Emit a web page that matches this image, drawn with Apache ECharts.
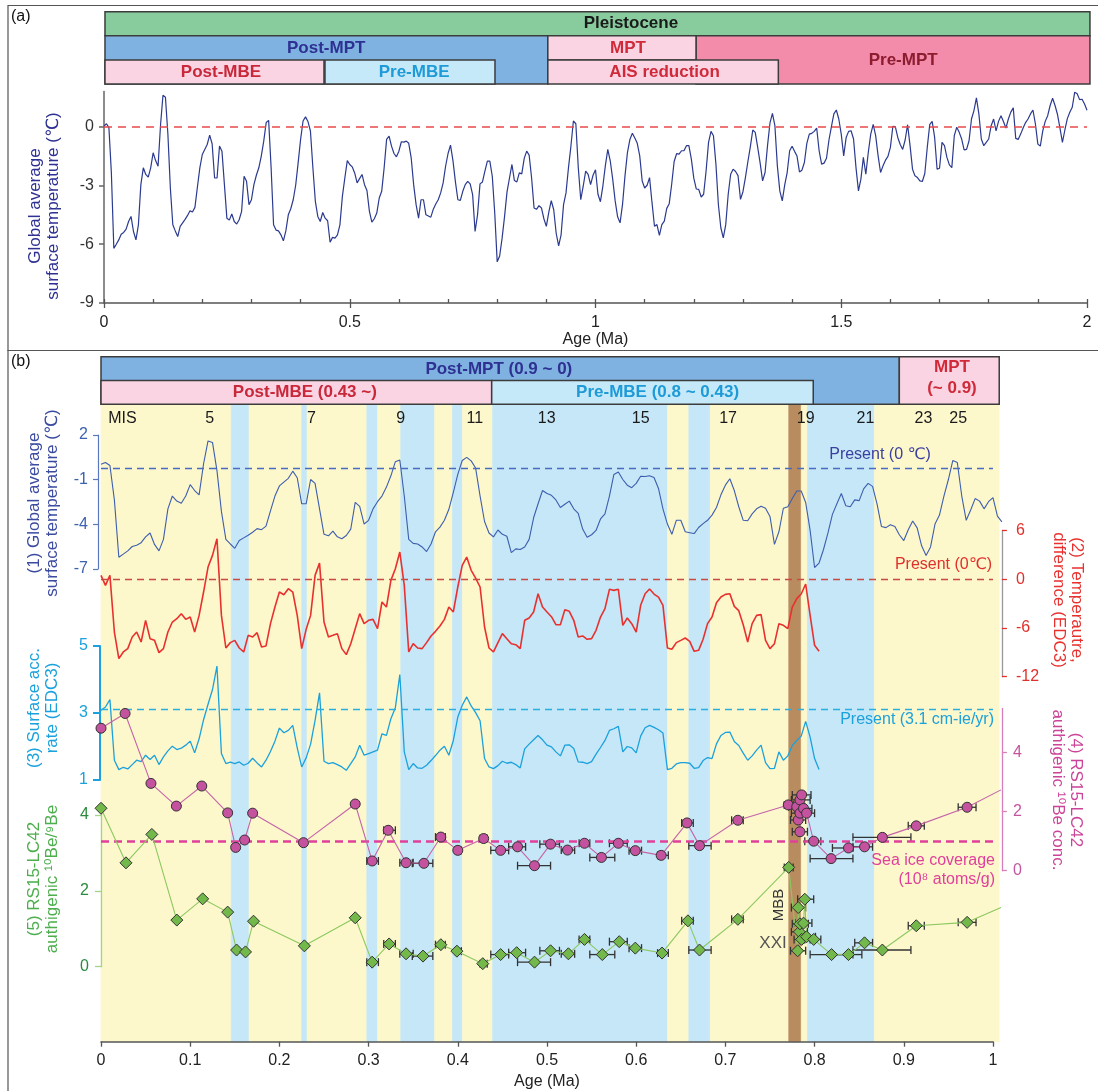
<!DOCTYPE html>
<html><head><meta charset="utf-8">
<script src="https://cdn.jsdelivr.net/npm/echarts@6/dist/echarts.min.js"></script>
<style>html,body{margin:0;padding:0;background:#fff}#c{width:1098px;height:1091px}</style>
</head><body><div id="c"></div><script>
const FONT = '"Liberation Sans", Arial, Helvetica, "DejaVu Sans", sans-serif';

// ---------- DATA ----------
// Global average surface temperature (deg C), sampled every 0.005 Ma, 0 - 2 Ma
const tempAgeStep = 0.005;
const globalTemp = [
0.03,0.15,-0.05,-2.36,-6.21,-6.0,-5.78,-5.49,-5.40,-5.23,
-4.84,-4.58,-5.35,-5.78,-5.01,-2.96,-2.10,-2.44,-2.58,-2.10,
-1.33,-1.73,-2.02,0.07,1.6,1.5,-0.39,-3.13,-5.01,-5.32,
-5.61,-5.09,-4.91,-4.73,-4.53,-4.29,-4.36,-4.12,-3.09,-2.10,
-1.42,-1.16,-0.91,-0.43,-0.87,-2.62,-2.62,-0.99,-1.25,-2.96,
-4.67,-4.77,-4.46,-4.84,-4.97,-4.75,-4.32,-2.53,-2.79,-3.98,
-3.73,-2.96,-2.48,-2.10,-1.50,-0.74,0.21,0.32,-2.10,-5.01,
-5.28,-5.32,-5.52,-5.83,-5.32,-4.50,-4.19,-3.73,-2.99,-1.85,
-0.65,0.29,0.50,0.26,-0.22,-2.10,-3.81,-4.58,-4.84,-4.38,
-4.67,-4.80,-5.9,-5.65,-5.69,-5.52,-5.01,-3.56,-2.62,-1.73,
-1.93,-2.05,-2.36,-2.87,-2.65,-2.44,-2.96,-3.26,-4.32,-4.87,
-4.70,-4.41,-3.64,-3.30,-2.10,-0.65,-0.48,-0.99,-1.37,-1.54,
-1.25,-0.77,-0.79,-0.74,-0.85,-1.59,-2.96,-3.98,-4.67,-3.73,
-3.73,-4.50,-4.56,-4.62,-4.21,-3.95,-3.73,-3.38,-2.87,-2.02,
-1.37,-0.94,-1.73,-2.82,-3.73,-3.76,-3.30,-2.96,-2.79,-2.92,
-3.47,-5.35,-4.50,-2.92,-2.82,-2.27,-1.76,-1.76,-2.53,-4.41,
-6.9,-6.6,-5.69,-4.58,-3.33,-2.62,-1.93,-2.75,-2.82,-2.36,
-2.41,-1.62,-1.25,-1.45,-2.62,-4.15,-4.22,-4.03,-4.15,-4.70,
-5.09,-4.36,-3.78,-4.24,-5.44,-6.09,-5.52,-3.98,-3.38,-2.10,
-0.99,0.29,0.15,-2.10,-3.73,-3.04,-2.27,-2.44,-2.96,-2.48,
-2.2,-3.45,-3.83,-3.03,-2.0,-1.16,-1.74,-2.68,-3.79,-4.60,
-4.91,-3.97,-2.51,-1.32,-0.65,-0.34,-0.58,-0.85,-1.49,-2.77,
-3.13,-2.99,-2.60,-3.88,-5.08,-5.00,-5.55,-5.00,-4.82,-4.17,
-3.93,-2.94,-1.78,-1.38,-1.40,-1.23,-1.23,-0.97,-0.97,-1.66,
-2.63,-3.18,-3.20,-3.59,-3.45,-2.26,-0.80,-0.24,-0.46,-1.91,
-3.97,-5.16,-5.68,-5.0,-3.45,-2.43,-2.17,-2.29,-2.50,-3.71,
-3.32,-2.60,-1.79,-1.03,-0.17,-0.29,-1.06,-1.86,-2.77,-2.34,
-0.97,0.19,0.68,0.05,-2.0,-3.28,-3.79,-2.97,-2.34,-1.23,
-1.0,-1.26,-1.50,-2.31,-2.22,-1.83,-0.85,-0.38,-0.34,-0.24,
-0.07,-1.23,-1.91,-1.86,-1.61,-0.68,0,0.65,0.85,0.39,
-0.38,-1.49,-0.55,-0.24,-0.21,-0.63,-2.09,-3.28,-2.68,-1.57,
-2.43,-1.32,-0.38,0.12,-0.46,-1.49,-2.34,-2.0,-1.71,-1.52,
-1.06,0.02,0,-0.55,-0.91,-1.16,-0.68,0.10,-0.97,-2.17,
-2.51,-2.60,-2.77,-2.80,-2.39,-1.06,0.10,0.27,-0.55,-2.17,
-2.12,-0.80,-0.97,-1.57,-1.95,-2.09,-0.46,-0.03,-0.29,-0.63,
-1.18,-1.16,-0.72,0.39,0.82,1.47,0.65,-0.63,-0.97,-0.80,
-0.63,0.05,0.39,-0.21,0.27,0.56,0.26,-0.07,0.39,0.74,
0.96,-0.60,-0.65,-0.38,-0.07,0.21,0.39,0.65,0.85,0.14,
-0.89,-0.99,-0.21,0.27,0.56,1.08,1.45,1.08,0.62,-0.07,
-0.80,-0.17,0.41,0.74,0.99,1.76,1.68,1.38,1.40,1.16,
0.84];

// EDC3 temperature difference (deg C) and surface accumulation rate (cm-ie/yr), every 0.005 Ma, 0 - 0.805 Ma
const edcAgeStep = 0.005;
const edcTempDiff = [
0.5,-0.74,0.49,-6.49,-9.77,-8.95,-8.54,-7.10,-6.49,-7.72,
-5.05,-7.31,-7.52,-9.03,-8.54,-6.49,-5.26,-4.85,-4.23,-4.93,
-4.64,-6.49,-4.44,-1.56,1.52,2.96,5.01,-4.44,-8.46,-7.80,
-7.52,-8.46,-8.95,-6.90,-7.10,-6.57,-8.34,-8.21,-5.46,-3.41,
-1.56,-1.89,-1.15,-1.56,-4.44,-8.54,-6.16,-4.44,0.49,2.0,
-5.26,-7.10,-6.90,-6.69,-8.54,-9.28,-7.93,-6.08,-4.23,-5.46,
-5.05,-4.93,-6.08,-2.79,-3.41,-0.12,1.31,3.37,-0.74,-8.95,
-7.93,-8.46,-8.54,-7.80,-6.98,-6.41,-5.75,-4.93,-3.41,-4.02,
-0.94,1.72,2.75,1.11,0.16,-0.94,-5.87,-8.46,-8.95,-7.80,
-6.69,-7.31,-7.93,-8.05,-8.54,-5.05,-4.76,-4.02,-1.77,-3.41,
-4.02,-4.60,-5.59,-5.59,-3.74,-3.94,-5.05,-7.10,-6.98,-7.39,
-7.31,-6.28,-4.64,-3.61,-1.23,-1.36,-1.23,-5.67,-4.76,-5.46,
-6.49,-3.20,-1.77,-1.19,-1.81,-2.18,-3.20,-8.46,-8.62,-7.80,
-7.52,-7.23,-7.64,-8.87,-8.75,-7.39,-5.46,-4.64,-2.87,-2.18,
-1.85,-1.77,-3.33,-3.86,-5.59,-7.72,-5.46,-4.44,-4.35,-7.52,
-8.54,-7.93,-5.46,-5.67,-6.08,-3.41,-2.38,-1.81,-0.57,-4.44,
-8.13,-8.87];
const edcAccRate = [
3.08,3.18,3.4,1.59,1.31,1.38,1.33,1.46,1.59,1.55,
1.74,1.61,1.74,1.46,1.69,1.87,2.01,1.91,1.95,2.04,
2.16,1.81,2.23,2.80,3.26,3.70,4.4,1.79,1.49,1.53,
1.49,1.54,1.44,1.50,1.65,1.51,1.39,1.59,1.85,2.16,
2.55,2.41,2.48,2.63,1.96,1.39,1.66,2.07,2.78,3.6,
1.56,1.49,1.52,1.46,1.39,1.29,1.49,1.69,2.04,1.74,
1.79,1.84,1.89,2.38,2.33,2.83,3.16,4.15,1.84,1.31,
1.49,1.36,1.35,1.44,1.58,1.73,1.89,2.01,1.74,2.18,
2.88,3.23,3.48,3.21,3.01,2.77,1.64,1.39,1.34,1.43,
1.56,1.50,1.53,1.46,1.36,1.93,2.07,2.20,2.33,2.20,
2.04,1.99,1.84,1.72,2.04,2.05,1.94,1.54,1.53,1.49,
1.55,1.77,1.97,2.18,2.48,2.53,2.60,1.84,2.00,1.96,
1.81,2.31,2.56,2.63,2.57,2.50,2.40,1.31,1.35,1.48,
1.52,1.52,1.50,1.35,1.37,1.58,1.67,1.64,2.08,2.33,
2.42,2.43,2.15,2.03,1.80,1.59,1.72,1.89,2.04,1.52,
1.34,1.35,1.84,1.59,1.72,2.03,2.18,2.31,2.75,2.28,
1.64,1.31];

// (4) RS15-LC42 authigenic 10Be concentration (10^8 atoms/g)
const beConcAge = [0.0,0.027,0.056,0.0845,0.113,0.142,0.151,0.161,0.170,0.227,0.285,0.304,0.322,0.342,0.362,0.381,0.400,0.429,0.448,0.467,0.486,0.504,0.523,0.542,0.561,0.580,0.599,0.628,0.657,0.671,0.714,0.7705,0.780,0.7817,0.7836,0.7836,0.7836,0.7855,0.7876,0.791,0.799,0.8185,0.838,0.856,0.876,0.914,0.971,1.009];
const beConcVal = [4.83,5.33,2.96,2.19,2.87,1.96,0.79,1.04,1.95,0.95,2.26,0.33,1.37,0.27,0.25,1.14,0.69,1.09,0.69,0.81,0.17,0.90,0.70,0.93,0.45,0.93,0.68,0.52,1.62,0.85,1.71,2.23,2.17,1.72,1.32,2.40,1.95,2.57,2.11,1.95,1.00,0.41,0.77,0.81,1.13,1.52,2.15,2.74];
const beConcErrLo = [null,null,null,null,null,null,null,null,null,null,null,0.298,0.317,0.335,0.349,0.375,0.397,0.425,0.437,0.457,0.467,0.492,0.516,0.536,0.548,0.570,0.592,0.624,0.651,0.659,0.707,0.766,0.771,0.773,0.775,0.774,0.774,0.775,0.778,0.782,0.789,0.795,0.820,0.843,0.843,0.905,0.961,null];
const beConcErrHi = [null,null,null,null,null,null,null,null,null,null,null,0.311,0.330,0.350,0.372,0.386,0.404,0.433,0.457,0.476,0.504,0.514,0.531,0.548,0.576,0.590,0.606,0.636,0.664,0.684,0.720,0.776,0.789,0.790,0.792,0.795,0.793,0.796,0.797,0.800,0.807,0.843,0.843,0.865,0.908,0.923,0.981,null];

// (5) RS15-LC42 authigenic 10Be/9Be
const beRatioAge = [0.0,0.028,0.057,0.085,0.114,0.142,0.152,0.162,0.171,0.228,0.285,0.304,0.323,0.342,0.361,0.381,0.399,0.428,0.448,0.466,0.486,0.504,0.524,0.542,0.562,0.581,0.599,0.629,0.658,0.671,0.714,0.771,0.781,0.7817,0.783,0.7836,0.7855,0.7876,0.789,0.791,0.799,0.819,0.838,0.856,0.876,0.914,0.971,1.009];
const beRatioVal = [4.18,2.74,3.49,1.23,1.79,1.44,0.44,0.39,1.20,0.55,1.29,0.12,0.60,0.34,0.28,0.58,0.41,0.08,0.32,0.37,0.12,0.42,0.34,0.72,0.32,0.66,0.49,0.36,1.21,0.44,1.25,2.62,0.42,1.56,0.92,1.13,0.72,1.15,1.78,0.79,0.72,0.32,0.32,0.63,0.44,1.08,1.17,1.56];
const beRatioErrLo = [null,null,null,null,null,null,null,null,null,null,null,0.298,0.317,0.335,0.349,0.375,0.397,0.425,0.437,0.457,0.467,0.492,0.516,0.536,0.548,0.570,0.592,0.624,0.651,0.659,0.707,0.766,0.773,0.774,0.774,0.775,0.777,0.778,0.781,0.782,0.789,0.795,0.820,0.845,0.843,0.905,0.961,null];
const beRatioErrHi = [null,null,null,null,null,null,null,null,null,null,null,0.311,0.330,0.350,0.372,0.386,0.404,0.433,0.457,0.476,0.504,0.514,0.531,0.548,0.576,0.590,0.606,0.636,0.664,0.684,0.720,0.776,0.790,0.790,0.792,0.793,0.795,0.797,0.799,0.801,0.807,0.843,0.853,0.865,0.908,0.923,0.981,null];

// Background MIS bands (panel b): Y yellow, B blue, M = MBB
const bandStart = [0,0.146,0.166,0.225,0.231,0.298,0.310,0.336,0.374,0.394,0.405,0.439,0.635,0.659,0.683,0.771,0.785,0.792,0.867];
const bandEnd   = [0.146,0.166,0.225,0.231,0.298,0.310,0.336,0.374,0.394,0.405,0.439,0.635,0.659,0.683,0.771,0.785,0.792,0.867,1.007];
const bandType  = ['Y','B','Y','B','Y','B','Y','B','Y','B','Y','B','Y','B','Y','M','Y','B','Y'];

const misAge  = [0.024,0.122,0.236,0.336,0.419,0.4996,0.605,0.703,0.79,0.857,0.922,0.961];
const misText = ['MIS','5','7','9','11','13','15','17','19','21','23','25'];

// Stage bars, panel (a)
const hdrANames = ['Pleistocene','Post-MPT','Pre-MPT','MPT','Post-MBE','Pre-MBE','AIS reduction'];
const hdrAStart = [0.002,0.002,1.2045,0.903,0.002,0.4496,0.903];
const hdrAEnd   = [2.006,0.903,2.006,1.2045,0.4476,0.7955,1.372];
const hdrARowLo = [2,0,0,1,0,0,0];
const hdrARowHi = [3,2,2,2,1,1,1];
const hdrALabelAge = [1.072,0.452,1.626,1.066,0.238,0.631,1.1406];
const hdrALabelRow = [2.5,1.5,1.0,1.5,0.5,0.5,0.5];
// Stage bars, panel (b)
const hdrBNames = ['Post-MPT (0.9 ~ 0)','Post-MBE (0.43 ~)','Pre-MBE (0.8 ~ 0.43)','MPT\n(~ 0.9)'];
const hdrBStart = [0,0,0.438,0.895];
const hdrBEnd   = [0.895,0.438,0.7985,1.007];
const hdrBRowLo = [0,0,0,0];
const hdrBRowHi = [2,1,1,2];
const hdrBLabelAge = [0.446,0.2285,0.624,0.954];
const hdrBLabelRow = [1.48,0.5,0.5,1.1];

// Tick values
const ticksAx = [0,0.5,1,1.5,2];
const ticksAy = [-9,-6,-3,0];
const ticksB1 = [-7,-4,-1,2];
const ticksB2 = [-12,-6,0,6];
const ticksB3 = [1,3,5];
const ticksB4 = [0,2,4];
const ticksB5 = [0,2,4];

// ---------- STYLE ----------
const hdrAFill = ['#88cc9e','#7fb2e0','#f28caa','#fad4e3','#fad4e3','#c6e9f9','#fad4e3'];
const hdrAText = ['#1a1a1a','#2e3192','#8c1c2e','#d02a3a','#c8283a','#1e9bd7','#d02a3a'];
const hdrBFill = ['#7fb2e0','#fad4e3','#c6e9f9','#fad4e3'];
const hdrBText = ['#2e3192','#c8283a','#1e9bd7','#d02a3a'];
const bandColor = {Y:'#fdf7cc', B:'#c5e7f7', M:'#b98c5f'};

const tempData = globalTemp.map((v,i)=>[+(i*tempAgeStep).toFixed(3), v]);
const tempDataB = tempData.filter(d=>d[0] <= 1.0101);
const redData = edcTempDiff.map((v,i)=>[+(i*edcAgeStep).toFixed(3), v]);
const cyanData = edcAccRate.map((v,i)=>[+(i*edcAgeStep).toFixed(3), v]);

function lineData(ages, vals){
  return ages.map((a,i)=> a > 1.0 ? {value:[a, vals[i]], symbol:'none'} : [a, vals[i]]);
}
function errData(lo, hi, vals){
  const out = [];
  lo.forEach((l,i)=>{ if(l!==null) out.push([l, hi[i], vals[i]]); });
  return out;
}

function headerRender(names, lx, ly, fills, tcols){
  return function(params, api){
    const i = params.dataIndex;
    const p0 = api.coord([api.value(0), api.value(3)]);
    const p1 = api.coord([api.value(1), api.value(2)]);
    const t = api.coord([lx[i], ly[i]]);
    return {type:'group', children:[
      {type:'rect', shape:{x:p0[0], y:p0[1], width:p1[0]-p0[0], height:p1[1]-p0[1]},
       style:{fill:fills[i], stroke:'#3c3c3c', lineWidth:1.5}},
      {type:'text', x:t[0], y:t[1], style:{text:names[i], fill:tcols[i], fontSize:17, fontWeight:'bold',
        fontFamily:FONT, align:'center', verticalAlign:'middle', lineHeight:21}}
    ]};
  };
}
function bandRender(params, api){
  const p0 = api.coord([api.value(0), 1]);
  const p1 = api.coord([api.value(1), 0]);
  const c = bandColor[bandType[params.dataIndex]];
  return {type:'rect', shape:{x:p0[0], y:p0[1], width:p1[0]-p0[0], height:p1[1]-p0[1]},
    style:{fill:c, stroke:c, lineWidth:0.6}};
}
function misRender(params, api){
  const p = api.coord([api.value(0), api.value(1)]);
  return {type:'text', x:p[0], y:p[1], style:{text:misText[params.dataIndex], fill:'#1a1a1a',
    fontSize:16, fontFamily:FONT, align:'center', verticalAlign:'middle'}};
}
function errRender(params, api){
  const lo = api.coord([api.value(0), api.value(2)]);
  const hi = api.coord([api.value(1), api.value(2)]);
  const h = 4, st = {stroke:'#333', lineWidth:1.3};
  return {type:'group', children:[
    {type:'line', shape:{x1:lo[0],y1:lo[1],x2:hi[0],y2:hi[1]}, style:st},
    {type:'line', shape:{x1:lo[0],y1:lo[1]-h,x2:lo[0],y2:lo[1]+h}, style:st},
    {type:'line', shape:{x1:hi[0],y1:hi[1]-h,x2:hi[0],y2:hi[1]+h}, style:st}
  ]};
}

function hiddenX(g, max){ return {type:'value', gridIndex:g, min:0, max:max, show:false}; }
function hiddenY(g, min, max){ return {type:'value', gridIndex:g, min:min, max:max, show:false}; }
function visY(g, min, max, pos, labelColor, lineColor, tickColor, ticks, offset, margin, lw, tl){
  return {type:'value', gridIndex:g, min:min, max:max, position:pos, offset:offset,
    axisLine:{show:true, onZero:false, lineStyle:{color:lineColor, width:lw||1.3}},
    axisTick:{show:true, length:tl||5, customValues:ticks, lineStyle:{color:tickColor, width:lw||1.3}},
    axisLabel:{show:true, customValues:ticks, color:labelColor, fontSize:16, fontFamily:FONT, margin:margin},
    splitLine:{show:false}};
}

const G = (l,t,w,h)=>({left:l, top:t, width:w, height:h, containLabel:false, outerBoundsMode:'none'});
const WB = 900.9;

const dash = (color, width, d)=>({silent:true, symbol:['none','none'], label:{show:false},
  emphasis:{disabled:true}, lineStyle:{color:color, width:width, type:d}});

const option = {
  animation:false,
  backgroundColor:'#fff',
  grid:[
    G(104,91.4,983,211.6),   //0 panel a
    G(104,11.7,983,72.3),    //1 header a
    G(101,356.7,WB,47.6),    //2 header b
    G(101,404.3,WB,637.4),   //3 bands
    G(101,404.3,892,637.4),  //4 visible age axis b
    G(101,435,WB,134),       //5 (1)
    G(101,530.7,WB,146),     //6 (2)
    G(101,646,WB,134),       //7 (3)
    G(101,708.45,WB,162.25), //8 (4)
    G(101,807.5,WB,159.2)    //9 (5)
  ],
  xAxis:[
    {type:'value', gridIndex:0, min:0, max:2, interval:0.1, position:'bottom',
      axisLine:{show:true, onZero:false, lineStyle:{color:'#555', width:1.5}},
      axisTick:{show:true, inside:true, length:4, lineStyle:{color:'#555', width:1.3}},
      axisLabel:{customValues:ticksAx, color:'#222', fontSize:16, fontFamily:FONT, margin:12},
      splitLine:{show:false},
      name:'Age (Ma)', nameLocation:'middle', nameGap:29, nameTextStyle:{color:'#222', fontSize:16, fontFamily:FONT}},
    hiddenX(1,2), hiddenX(2,1.01), hiddenX(3,1.01),
    {type:'value', gridIndex:4, min:0, max:1, interval:0.1, position:'bottom',
      axisLine:{show:true, onZero:false, lineStyle:{color:'#555', width:1.5}},
      axisTick:{show:true, length:5, lineStyle:{color:'#555', width:1.3}},
      axisLabel:{color:'#222', fontSize:16, fontFamily:FONT, margin:11},
      splitLine:{show:false},
      name:'Age (Ma)', nameLocation:'middle', nameGap:32, nameTextStyle:{color:'#222', fontSize:16, fontFamily:FONT}},
    hiddenX(5,1.01), hiddenX(6,1.01), hiddenX(7,1.01), hiddenX(8,1.01), hiddenX(9,1.01),
    {type:'value', gridIndex:0, min:0, max:2, position:'bottom',
      axisLine:{show:false, onZero:false}, axisLabel:{show:false}, splitLine:{show:false},
      axisTick:{show:true, length:5, customValues:ticksAx, lineStyle:{color:'#555', width:1.3}}}
  ],
  yAxis:[
    visY(0,-9,1.8,'left','#333','#666','#666',ticksAy,0,10,1.5,5),
    hiddenY(1,0,3), hiddenY(2,0,2), hiddenY(3,0,1), hiddenY(4,0,1),
    visY(5,-7,2,'left','#3d62b0','#5a78c0','#5a78c0',ticksB1,3,10,1.2,5),
    visY(6,-12,6,'right','#e0302a','#999','#e0302a',ticksB2,0,14,1.3,5),
    visY(7,1,5,'left','#1ba1dc','#1ba1dc','#1ba1dc',ticksB3,1,12,2,7),
    visY(8,0,5.5,'right','#c455a0','#d67fb8','#d67fb8',ticksB4,0,11,1.3,5),
    visY(9,0,4.2,'left','#2b8a3e','#a4d38a','#a4d38a',ticksB5,0,12,1.3,6)
  ],
  series:[
    {type:'custom', xAxisIndex:1, yAxisIndex:1, z:2, silent:true,
      renderItem:headerRender(hdrANames,hdrALabelAge,hdrALabelRow,hdrAFill,hdrAText),
      data:hdrAStart.map((s,i)=>[s,hdrAEnd[i],hdrARowLo[i],hdrARowHi[i]])},
    {type:'custom', xAxisIndex:2, yAxisIndex:2, z:2, silent:true,
      renderItem:headerRender(hdrBNames,hdrBLabelAge,hdrBLabelRow,hdrBFill,hdrBText),
      data:hdrBStart.map((s,i)=>[s,hdrBEnd[i],hdrBRowLo[i],hdrBRowHi[i]])},
    {type:'custom', xAxisIndex:3, yAxisIndex:3, z:0, silent:true, renderItem:bandRender,
      data:bandStart.map((s,i)=>[s,bandEnd[i]])},
    {type:'custom', xAxisIndex:3, yAxisIndex:3, z:3, silent:true, renderItem:misRender,
      data:misAge.map(a=>[a,0.977])},
    {type:'line', xAxisIndex:0, yAxisIndex:0, data:tempData, showSymbol:false, clip:false, z:3,
      lineStyle:{color:'#2b3a8f', width:1.2}, silent:true,
      markLine:Object.assign(dash('#e84a4a',1.5,[8,6]),{data:[[{coord:[0,0]},{coord:[2,0]}]]})},
    {type:'line', xAxisIndex:5, yAxisIndex:5, data:tempDataB, showSymbol:false, clip:false, z:3,
      lineStyle:{color:'#3d5eae', width:1.1}, silent:true,
      markLine:Object.assign(dash('#4a6bc0',1.3,[7,5]),{data:[[{coord:[0,-0.2]},{coord:[1,-0.2]}]]})},
    {type:'line', xAxisIndex:6, yAxisIndex:6, data:redData, showSymbol:false, clip:false, z:3,
      lineStyle:{color:'#e8312f', width:1.6}, silent:true,
      markLine:Object.assign(dash('#cc4a44',1.3,[7,5]),{data:[[{coord:[0,0]},{coord:[1,0]}]]})},
    {type:'line', xAxisIndex:7, yAxisIndex:7, data:cyanData, showSymbol:false, clip:false, z:3,
      lineStyle:{color:'#1ba1dc', width:1.3}, silent:true,
      markLine:Object.assign(dash('#2ab0e0',1.3,[7,5]),{data:[[{coord:[0,3.1]},{coord:[1,3.1]}]]})},
    {type:'custom', xAxisIndex:8, yAxisIndex:8, z:4, silent:true, renderItem:errRender,
      data:errData(beConcErrLo,beConcErrHi,beConcVal)},
    {type:'line', xAxisIndex:8, yAxisIndex:8, data:lineData(beConcAge,beConcVal), z:5, silent:true,
      symbol:'circle', symbolSize:10, showAllSymbol:true,
      lineStyle:{color:'#c464a8', width:1.1},
      itemStyle:{color:'#c4529e', borderColor:'#333', borderWidth:1},
      markLine:Object.assign(dash('#e0409a',2.6,[8,5]),{data:[[{coord:[0,1.0]},{coord:[1,1.0]}]]})},
    {type:'custom', xAxisIndex:9, yAxisIndex:9, z:4, silent:true, renderItem:errRender,
      data:errData(beRatioErrLo,beRatioErrHi,beRatioVal)},
    {type:'line', xAxisIndex:9, yAxisIndex:9, data:lineData(beRatioAge,beRatioVal), z:5, silent:true,
      symbol:'diamond', symbolSize:12, showAllSymbol:true,
      lineStyle:{color:'#8cc860', width:1.1},
      itemStyle:{color:'#72b84a', borderColor:'#333', borderWidth:1}}
  ],
  graphic:[
    {type:'rect', z:100, silent:true, shape:{x:8, y:5.5, width:1095, height:345}, style:{fill:'none', stroke:'#555', lineWidth:1.2}},
    {type:'rect', z:100, silent:true, shape:{x:8, y:350.5, width:1095, height:750}, style:{fill:'none', stroke:'#555', lineWidth:1.2}},
    {type:'text', z:100, x:11, y:17, style:{text:'(a)', fill:'#111', fontSize:16, fontFamily:FONT, verticalAlign:'middle'}},
    {type:'text', z:100, x:11, y:362, style:{text:'(b)', fill:'#111', fontSize:16, fontFamily:FONT, verticalAlign:'middle'}},
    {type:'text', z:100, x:44, y:206, rotation:Math.PI/2, style:{text:'Global average\nsurface temperature (℃)', fill:'#2e3192', fontSize:17, fontFamily:FONT, align:'center', verticalAlign:'middle', lineHeight:18}},
    {type:'text', z:100, x:43.5, y:503, rotation:Math.PI/2, style:{text:'(1) Global average\nsurface temperature (℃)', fill:'#3b4ba0', fontSize:17, fontFamily:FONT, align:'center', verticalAlign:'middle', lineHeight:18}},
    {type:'text', z:100, x:43.5, y:708, rotation:Math.PI/2, style:{text:'(3) Surface acc.\nrate (EDC3)', fill:'#1ba1dc', fontSize:17, fontFamily:FONT, align:'center', verticalAlign:'middle', lineHeight:18}},
    {type:'text', z:100, x:43.5, y:879, rotation:Math.PI/2, style:{text:'(5) RS15-LC42\nauthigenic ¹⁰Be/⁹Be', fill:'#4cae4c', fontSize:17, fontFamily:FONT, align:'center', verticalAlign:'middle', lineHeight:18}},
    {type:'text', z:100, x:1068, y:600, rotation:-Math.PI/2, style:{text:'(2) Temperautre,\ndifference (EDC3)', fill:'#e8312f', fontSize:17, fontFamily:FONT, align:'center', verticalAlign:'middle', lineHeight:18}},
    {type:'text', z:100, x:1067, y:790, rotation:-Math.PI/2, style:{text:'(4) RS15-LC42\nauthigenic ¹⁰Be conc.', fill:'#cc4499', fontSize:17, fontFamily:FONT, align:'center', verticalAlign:'middle', lineHeight:18}},
    {type:'text', z:100, x:880, y:455, style:{text:'Present (0 ℃)', fill:'#3b3f9e', fontSize:16, fontFamily:FONT, align:'center', verticalAlign:'middle'}},
    {type:'text', z:100, x:992, y:565, style:{text:'Present (0℃)', fill:'#e0302a', fontSize:16, fontFamily:FONT, align:'right', verticalAlign:'middle'}},
    {type:'text', z:100, x:994, y:720, style:{text:'Present (3.1 cm-ie/yr)', fill:'#1ba1dc', fontSize:16, fontFamily:FONT, align:'right', verticalAlign:'middle'}},
    {type:'text', z:100, x:995, y:861, style:{text:'Sea ice coverage', fill:'#e0409a', fontSize:16, fontFamily:FONT, align:'right', verticalAlign:'middle'}},
    {type:'text', z:100, x:995, y:880, style:{text:'(10⁸ atoms/g)', fill:'#e0409a', fontSize:16, fontFamily:FONT, align:'right', verticalAlign:'middle'}},
    {type:'text', z:100, x:779, y:905, rotation:Math.PI/2, style:{text:'MBB', fill:'#333', fontSize:15, fontFamily:FONT, align:'center', verticalAlign:'middle'}},
    {type:'text', z:100, x:773, y:943, style:{text:'XXI', fill:'#555', fontSize:17, fontWeight:'lighter', fontFamily:FONT, align:'center', verticalAlign:'middle'}}
  ]
};

const chart = echarts.init(document.getElementById('c'));
chart.setOption(option);
</script></body></html>
